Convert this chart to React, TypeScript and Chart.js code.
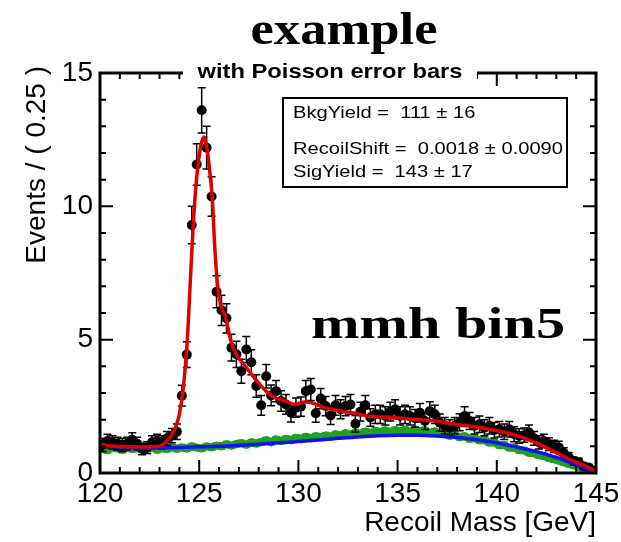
import React, { useEffect, useRef } from 'react';
import { Chart, registerables } from 'chart.js';

Chart.register(...registerables);

// ---------- data ----------
const BIN_LOW = 120;
const BIN_WIDTH = 0.25;

const dataValues = [
  1.05, 1.2, 1.15, 1.1, 1.05, 1.1, 1.25, 1.1, 0.9, 0.95,
  1.15, 1.2, 1.15, 1.3, 1.4, 1.55, 2.9, 4.44, 9.3, 11.57,
  13.6, 12.2, 10.37, 6.8, 6.1, 5.8, 4.7, 4.45, 3.82, 4.63,
  4.15, 3.26, 2.54, 3.63, 2.91, 3.07, 2.7, 2.57, 2.26, 2.45,
  2.49, 3.07, 3.13, 2.24, 2.79, 2.51, 2.16, 2.54, 2.39, 2.51,
  2.57, 1.85, 2.3, 2.54, 2.08, 2.2, 2.2, 2.14, 2.3, 2.39,
  2.14, 2.2, 2.14, 2.05, 2.26, 1.95, 2.32, 2.2, 1.89, 1.77,
  1.7, 1.77, 1.9, 2.14, 1.95, 1.77, 1.83, 1.7, 1.77, 1.6,
  1.64, 1.55, 1.64, 1.45, 1.39, 1.42, 1.52, 1.3, 1.15, 1.2,
  1.08, 1.0, 0.96, 0.75, 0.59, 0.45, 0.4, 0.25, 0.21, 0.09,
];

const dataErrors = [
  0.24, 0.25, 0.25, 0.24, 0.24, 0.24, 0.26, 0.24, 0.22, 0.22,
  0.25, 0.25, 0.25, 0.26, 0.27, 0.29, 0.39, 0.48, 0.7, 0.78,
  0.85, 0.8, 0.74, 0.6, 0.57, 0.55, 0.5, 0.49, 0.45, 0.49,
  0.47, 0.42, 0.37, 0.44, 0.39, 0.4, 0.38, 0.37, 0.35, 0.36,
  0.36, 0.4, 0.41, 0.34, 0.38, 0.36, 0.34, 0.37, 0.36, 0.36,
  0.37, 0.31, 0.35, 0.37, 0.33, 0.34, 0.34, 0.34, 0.35, 0.36,
  0.34, 0.34, 0.34, 0.33, 0.35, 0.32, 0.35, 0.34, 0.32, 0.31,
  0.3, 0.31, 0.32, 0.34, 0.32, 0.31, 0.31, 0.3, 0.31, 0.29,
  0.29, 0.29, 0.29, 0.28, 0.27, 0.27, 0.28, 0.26, 0.25, 0.25,
  0.24, 0.23, 0.23, 0.2, 0.18, 0.15, 0.15, 0.12, 0.11, 0.07,
];

const bkgSampleValues = [
  0.9, 0.85, 0.95, 0.92, 0.86, 0.95, 0.9, 0.93,
  0.88, 0.92, 0.96, 0.87, 0.93, 0.9, 0.97, 0.91,
  0.96, 0.92, 1.0, 0.95, 0.92, 1.0, 0.96, 1.03,
  1.0, 1.08, 1.03, 1.08, 1.12, 1.06, 1.15, 1.1,
  1.16, 1.23, 1.15, 1.26, 1.2, 1.28, 1.23, 1.32,
  1.27, 1.36, 1.3, 1.38, 1.34, 1.41, 1.36, 1.45,
  1.4, 1.49, 1.43, 1.52, 1.46, 1.55, 1.49, 1.58,
  1.53, 1.6, 1.52, 1.61, 1.55, 1.62, 1.54, 1.63,
  1.55, 1.61, 1.5, 1.56, 1.46, 1.51, 1.4, 1.44,
  1.34, 1.38, 1.28, 1.31, 1.22, 1.24, 1.14, 1.15,
  1.04, 1.05, 0.95, 0.96, 0.86, 0.85, 0.76, 0.74,
  0.66, 0.64, 0.56, 0.52, 0.46, 0.4, 0.34, 0.28,
  0.22, 0.16, 0.1, 0.04,
];

const totalFitX = [
  120, 120.5, 121, 122, 123, 123.3, 123.58, 123.83, 124.0, 124.2,
  124.4, 124.58, 124.7, 124.85, 125.0, 125.12, 125.24, 125.36, 125.46, 125.56,
  125.66, 125.79, 125.93, 126.08, 126.33, 126.58, 126.83, 127.33, 127.99, 128.4,
  128.83, 129.33, 129.83, 130.33, 130.66, 131.33, 132.16, 132.83, 133.5, 134.75,
  136.1, 137.1, 138.1, 138.75, 139.55, 140.45, 141.35, 142.12, 142.85, 143.47,
  144.15, 144.9, 145,
];
const totalFitY = [
  1.08, 1.02, 0.99, 0.98, 1.0, 1.15, 1.39, 1.76, 2.2, 3.2,
  5.0, 7.6, 9.3, 10.9, 11.9, 12.4, 12.6, 12.3, 11.8, 11.1,
  10.3, 8.4, 7.0, 6.3, 5.85, 5.0, 4.5, 4.0, 3.38, 3.05,
  2.82, 2.7, 2.57, 2.66, 2.64, 2.45, 2.32, 2.24, 2.14, 2.08,
  2.0, 1.93, 1.8, 1.75, 1.65, 1.52, 1.32, 1.08, 0.82, 0.59,
  0.36, 0.09, 0.02,
];

const bkgFitX = [
  120, 120.5, 121, 122, 123, 124, 125, 126, 127, 128,
  129, 130, 131, 132, 133, 134, 135, 136, 137, 138,
  139, 140, 141, 142, 143, 143.5, 144, 144.5, 145,
];
const bkgFitY = [
  1.05, 1.0, 0.97, 0.95, 0.95, 0.96, 0.98, 1.0, 1.04, 1.08,
  1.13, 1.18, 1.24, 1.3, 1.35, 1.4, 1.42, 1.42, 1.39, 1.33,
  1.25, 1.13, 0.97, 0.8, 0.58, 0.46, 0.32, 0.17, 0.02,
];

const xTickValues = [120, 125, 130, 135, 140, 145];
const yTickValues = [0, 5, 10, 15];
const X_MIN = 120;
const X_MAX = 145;
const Y_MIN = 0;
const Y_MAX = 15;
const X_MINOR_STEP = 1;
const Y_MINOR_STEP = 1;

const titleText = 'example';
const subtitleText = 'with Poisson error bars';
const labelText = 'mmh bin5';
const xTitle = 'Recoil Mass [GeV]';
const yTitle = 'Events / ( 0.25 )';
const statLines = [
  'BkgYield =  111 \u00b1 16',
  'RecoilShift =  0.0018 \u00b1 0.0090',
  'SigYield =  143 \u00b1 17',
];

const binCenters = dataValues.map((_, i) => BIN_LOW + BIN_WIDTH * (i + 0.5));

const SANS = '"Liberation Sans", Arial, Helvetica, sans-serif';
const SERIF = '"Liberation Serif", "Times New Roman", serif';
const DATA_INDEX = 2;

function drawFitted(
  ctx: CanvasRenderingContext2D,
  text: string,
  x: number,
  y: number,
  font: string,
  targetWidth: number,
  align: 'left' | 'center' | 'right'
) {
  ctx.save();
  ctx.font = font;
  ctx.textBaseline = 'alphabetic';
  ctx.textAlign = 'left';
  const w = ctx.measureText(text).width;
  const sx = targetWidth / w;
  ctx.translate(x, y);
  ctx.scale(sx, 1);
  const ox = align === 'left' ? 0 : align === 'center' ? -w / 2 : -w;
  ctx.fillText(text, ox, 0);
  ctx.restore();
}

const rootPlugin = {
  id: 'rootStyle',
  beforeDatasetDraw(chart: any, args: any) {
    if (args.index !== DATA_INDEX) return;
    const { ctx, chartArea, scales } = chart;
    const xs = scales.x;
    const ys = scales.y;
    ctx.save();
    ctx.beginPath();
    ctx.rect(chartArea.left, chartArea.top, chartArea.right - chartArea.left, chartArea.bottom - chartArea.top);
    ctx.clip();
    ctx.strokeStyle = '#000';
    ctx.lineWidth = 1.5;
    dataValues.forEach((v, i) => {
      const px = xs.getPixelForValue(binCenters[i]);
      const e = dataErrors[i];
      const y1 = ys.getPixelForValue(v - e);
      const y2 = ys.getPixelForValue(v + e);
      ctx.beginPath();
      ctx.moveTo(px, y1);
      ctx.lineTo(px, y2);
      ctx.moveTo(px - 4, y1);
      ctx.lineTo(px + 4, y1);
      ctx.moveTo(px - 4, y2);
      ctx.lineTo(px + 4, y2);
      ctx.stroke();
    });
    ctx.restore();
  },
  afterDraw(chart: any) {
    const { ctx, chartArea, scales } = chart;
    const xs = scales.x;
    const ys = scales.y;
    const { left, right, top, bottom } = chartArea;
    ctx.save();
    ctx.strokeStyle = '#000';
    ctx.fillStyle = '#000';

    // ticks (inward, on all four sides)
    ctx.lineWidth = 2;
    for (let v = X_MIN; v <= X_MAX + 1e-9; v += X_MINOR_STEP) {
      const major = xTickValues.includes(v);
      const len = major ? 13 : 6;
      const px = xs.getPixelForValue(v);
      ctx.beginPath();
      ctx.moveTo(px, bottom);
      ctx.lineTo(px, bottom - len);
      ctx.moveTo(px, top);
      ctx.lineTo(px, top + len);
      ctx.stroke();
    }
    for (let v = Y_MIN; v <= Y_MAX + 1e-9; v += Y_MINOR_STEP) {
      const major = yTickValues.includes(v);
      const len = major ? 13 : 6;
      const py = ys.getPixelForValue(v);
      ctx.beginPath();
      ctx.moveTo(left, py);
      ctx.lineTo(left + len, py);
      ctx.moveTo(right, py);
      ctx.lineTo(right - len, py);
      ctx.stroke();
    }

    // frame
    ctx.lineWidth = 3;
    ctx.strokeRect(left, top, right - left, bottom - top);

    // subtitle box over top frame
    ctx.fillStyle = '#fff';
    ctx.fillRect(183, 58, 294, 28);
    ctx.fillStyle = '#000';
    drawFitted(ctx, subtitleText, 330, 78, `bold 21px ${SANS}`, 265, 'center');

    // main title
    drawFitted(ctx, titleText, 344, 44, `bold 47px ${SERIF}`, 187, 'center');

    // stat box
    ctx.fillStyle = '#fff';
    ctx.fillRect(283, 98, 284, 89);
    ctx.lineWidth = 2;
    ctx.strokeRect(283, 98, 284, 89);
    ctx.fillStyle = '#000';
    ctx.font = `17px ${SANS}`;
    const statScale = 270 / ctx.measureText(statLines[1]).width;
    const statBaselines = [118, 154, 177];
    statLines.forEach((t, i) => {
      ctx.font = `17px ${SANS}`;
      const w = ctx.measureText(t).width;
      drawFitted(ctx, t, 293, statBaselines[i], `17px ${SANS}`, w * statScale, 'left');
    });

    // label
    drawFitted(ctx, labelText, 311, 338, `bold 45px ${SERIF}`, 254, 'left');

    // axis titles
    ctx.font = `28px ${SANS}`;
    ctx.textBaseline = 'alphabetic';
    ctx.textAlign = 'right';
    ctx.fillText(xTitle, right, 531);
    ctx.save();
    ctx.translate(45, 66);
    ctx.rotate(-Math.PI / 2);
    ctx.textAlign = 'right';
    ctx.fillText(yTitle, 0, 0);
    ctx.restore();

    ctx.restore();
  },
};

export default function App() {
  const canvasRef = useRef<HTMLCanvasElement | null>(null);

  useEffect(() => {
    if (!canvasRef.current) return;
    const chart = new Chart(canvasRef.current, {
      type: 'scatter',
      data: {
        datasets: [
          {
            label: 'total fit',
            data: totalFitX.map((x, i) => ({ x, y: totalFitY[i] })),
            showLine: true,
            borderColor: '#dc0000',
            borderWidth: 3.5,
            pointRadius: 0,
            cubicInterpolationMode: 'monotone',
            order: 1,
          } as any,
          {
            label: 'background fit',
            data: bkgFitX.map((x, i) => ({ x, y: bkgFitY[i] })),
            showLine: true,
            borderColor: '#1010f0',
            borderWidth: 3.5,
            pointRadius: 0,
            cubicInterpolationMode: 'monotone',
            order: 2,
          } as any,
          {
            label: 'data',
            data: binCenters.map((x, i) => ({ x, y: dataValues[i] })),
            showLine: false,
            pointRadius: 5,
            pointBackgroundColor: '#000',
            pointBorderColor: '#000',
            pointBorderWidth: 0,
            order: 3,
          } as any,
          {
            label: 'background sample',
            data: binCenters.map((x, i) => ({ x, y: bkgSampleValues[i] })),
            showLine: true,
            borderColor: '#22a022',
            borderWidth: 8,
            pointStyle: 'rect',
            pointRadius: 5,
            pointBackgroundColor: '#22a022',
            pointBorderColor: '#22a022',
            pointBorderWidth: 0,
            order: 4,
          } as any,
        ],
      },
      options: {
        animation: false,
        responsive: true,
        maintainAspectRatio: false,
        events: [],
        layout: { padding: { left: 0, top: 73, right: 25, bottom: 0 } },
        plugins: {
          legend: { display: false },
          tooltip: { enabled: false },
          title: { display: false },
        },
        scales: {
          x: {
            type: 'linear',
            min: X_MIN,
            max: X_MAX,
            grid: { display: false, drawTicks: false },
            border: { display: false },
            afterBuildTicks: (s: any) => {
              s.ticks = xTickValues.map((value) => ({ value }));
            },
            afterFit: (s: any) => {
              s.height = 69;
              s.paddingLeft = 0;
              s.paddingRight = 0;
            },
            ticks: {
              autoSkip: false,
              maxRotation: 0,
              padding: 4,
              color: '#000',
              font: { family: SANS, size: 28 },
              callback: (v: any) => String(v),
            },
          },
          y: {
            type: 'linear',
            min: Y_MIN,
            max: Y_MAX,
            grid: { display: false, drawTicks: false },
            border: { display: false },
            afterBuildTicks: (s: any) => {
              s.ticks = yTickValues.map((value) => ({ value }));
            },
            afterFit: (s: any) => {
              s.width = 100;
              s.paddingTop = 0;
              s.paddingBottom = 0;
            },
            ticks: {
              padding: 7,
              color: '#000',
              font: { family: SANS, size: 28 },
              callback: (v: any) => String(v),
            },
          },
        },
      } as any,
      plugins: [rootPlugin],
    });
    return () => chart.destroy();
  }, []);

  return (
    <div style={{ position: 'absolute', left: 0, top: 0, width: 621, height: 542, background: '#fff' }}>
      <canvas ref={canvasRef} />
    </div>
  );
}
